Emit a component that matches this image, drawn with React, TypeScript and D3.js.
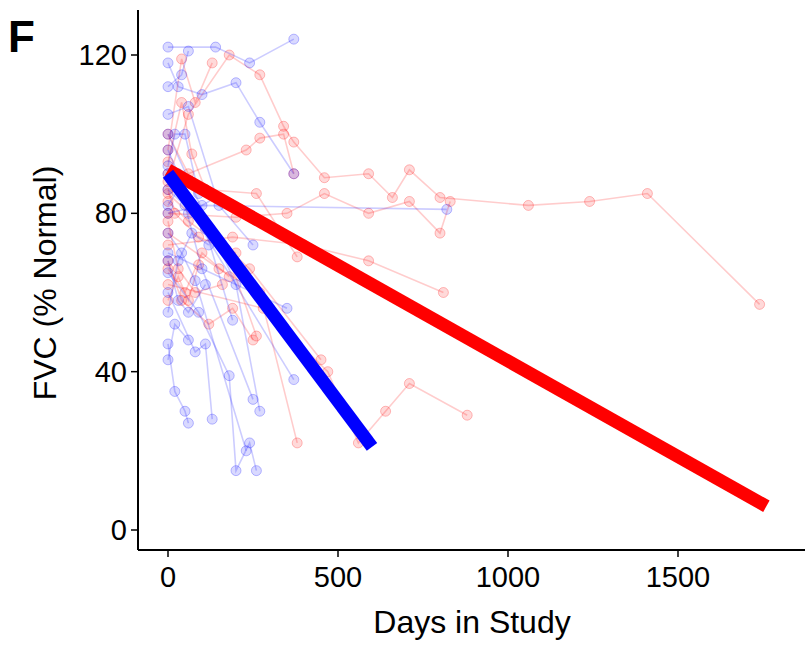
import * as d3 from 'd3';

type Pt = [number, number];

// Individual patient trajectories: [day, FVC % normal]
const redPatients: Pt[][] = [
  [[0, 88], [60, 105], [180, 120], [270, 115], [340, 102], [370, 98], [460, 89], [590, 90], [660, 84], [710, 91], [800, 84], [1060, 82], [1240, 83], [1410, 85], [1740, 57]],
  [[0, 80], [200, 79], [350, 80], [460, 85], [590, 80], [710, 83], [800, 75], [830, 83]],
  [[0, 72], [190, 74], [400, 72], [590, 68], [810, 60]],
  [[0, 62], [280, 56], [470, 40], [560, 22], [640, 30], [710, 37], [880, 29]],
  [[0, 75], [150, 66], [270, 60], [380, 22]],
  [[0, 85], [240, 66], [450, 43]],
  [[0, 96], [40, 119], [80, 108], [130, 118]],
  [[0, 100], [60, 90], [230, 96], [270, 99], [340, 100], [370, 90]],
  [[0, 90], [110, 86], [260, 85], [380, 69]],
  [[0, 83], [60, 78], [170, 71], [260, 49]],
  [[0, 68], [40, 58], [120, 52], [190, 56], [250, 48]],
  [[0, 78], [30, 66], [80, 60], [160, 62]],
  [[0, 93], [40, 108], [70, 95], [110, 86]],
  [[0, 66], [50, 60], [100, 70], [180, 64]],
  [[0, 86], [20, 80], [90, 74], [200, 70]],
  [[0, 58], [30, 64], [60, 58], [90, 67]],
];

const bluePatients: Pt[][] = [
  [[0, 122], [140, 122], [240, 118], [370, 124]],
  [[0, 118], [30, 112], [100, 110], [200, 113], [270, 103], [370, 90]],
  [[0, 80], [100, 82], [820, 81]],
  [[0, 65], [90, 55], [180, 39], [200, 15], [240, 22], [260, 15]],
  [[0, 47], [20, 35], [50, 30], [60, 27]],
  [[0, 60], [80, 45], [110, 47], [130, 28]],
  [[0, 100], [200, 62], [270, 30]],
  [[0, 90], [370, 38]],
  [[0, 70], [350, 56]],
  [[0, 105], [60, 107], [150, 82], [250, 72]],
  [[0, 112], [40, 115], [60, 121]],
  [[0, 96], [30, 90], [110, 76], [190, 53]],
  [[0, 86], [50, 82], [100, 66], [250, 33]],
  [[0, 75], [40, 70], [80, 63], [230, 20]],
  [[0, 55], [30, 68], [70, 75], [120, 72]],
  [[0, 43], [20, 52], [60, 48]],
  [[0, 92], [20, 100], [50, 100], [90, 85]],
  [[0, 68], [30, 58], [60, 55], [110, 62]],
  [[0, 82], [30, 86], [60, 80], [140, 84]],
];

const redFit: Pt[] = [[0, 91], [1760, 6]];
const blueFit: Pt[] = [[0, 90], [600, 21]];

const xTicks = [0, 500, 1000, 1500];
const yTicks = [0, 40, 80, 120];

export default function App() {
  const W = 810, H = 647;
  const left = 138, right = 805, top = 10, bottom = 550;
  const x = d3.scaleLinear().domain([0, 1500]).range([168, 678]);
  const y = d3.scaleLinear().domain([0, 120]).range([530, 55]);
  const line = d3.line<Pt>().x((d) => x(d[0])).y((d) => y(d[1]));
  const font = '"Liberation Sans", Arial, sans-serif';

  const patients = (data: Pt[][], color: string) =>
    data.map((p, i) => (
      <g key={color + i}>
        <path d={line(p) ?? ''} fill="none" stroke={color} strokeOpacity={0.2} strokeWidth={1.6} />
        {p.map((d, j) => (
          <circle key={j} cx={x(d[0])} cy={y(d[1])} r={5} fill={color} fillOpacity={0.15} stroke={color} strokeOpacity={0.25} />
        ))}
      </g>
    ));

  return (
    <svg width={W} height={H} style={{ position: 'absolute', left: 0, top: 0, background: '#fff' }} fontFamily={font}>
      {patients(redPatients, '#ff0000')}
      {patients(bluePatients, '#0000ff')}
      <path d={line(redFit) ?? ''} stroke="#ff0000" strokeWidth={13} fill="none" />
      <path d={line(blueFit) ?? ''} stroke="#0000ff" strokeWidth={13} fill="none" />
      <line x1={left} x2={left} y1={top} y2={bottom} stroke="#000" strokeWidth={2} />
      <line x1={left} x2={right} y1={bottom} y2={bottom} stroke="#000" strokeWidth={2} />
      {xTicks.map((t) => (
        <g key={t}>
          <line x1={x(t)} x2={x(t)} y1={bottom} y2={bottom + 7} stroke="#000" strokeWidth={1.5} />
          <text x={x(t)} y={bottom + 37} textAnchor="middle" fontSize={29} fill="#000">{t}</text>
        </g>
      ))}
      {yTicks.map((t) => (
        <g key={t}>
          <line x1={left - 7} x2={left} y1={y(t)} y2={y(t)} stroke="#000" strokeWidth={1.5} />
          <text x={left - 11} y={y(t) + 10} textAnchor="end" fontSize={29} fill="#000">{t}</text>
        </g>
      ))}
      <text x={472} y={633} textAnchor="middle" fontSize={32} fill="#000">Days in Study</text>
      <text transform="translate(56,283) rotate(-90)" textAnchor="middle" fontSize={32} fill="#000">FVC (% Normal)</text>
      <text x={8} y={52} fontSize={44} fontWeight="bold" fill="#000">F</text>
    </svg>
  );
}
